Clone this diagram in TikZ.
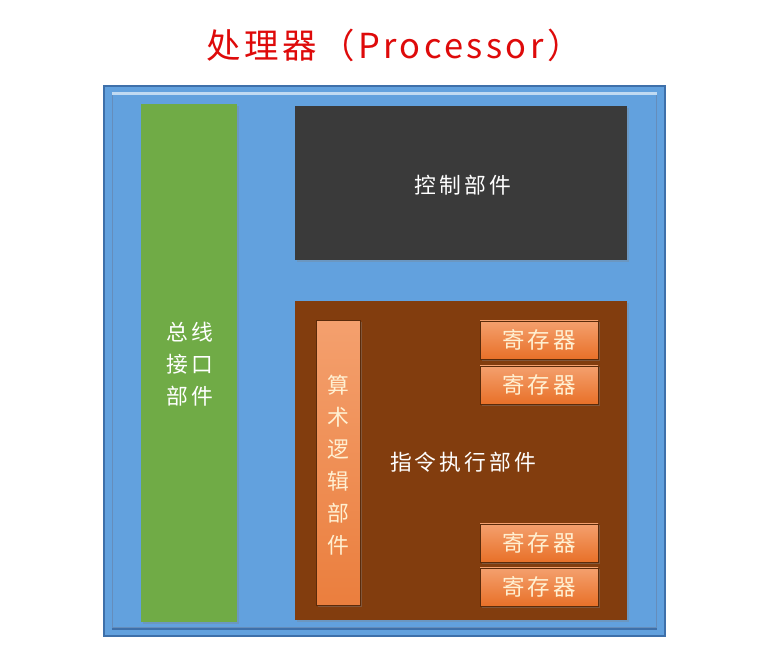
\documentclass[tikz,border=0pt]{standalone}
\usepackage{fontspec}
\newfontfamily\cjk[LetterSpace=14]{Noto Sans CJK SC}
\newfontfamily\cjktitle[LetterSpace=10]{Noto Sans CJK SC}
\usetikzlibrary{shadows}
\definecolor{procblue}{RGB}{98,161,222}
\definecolor{procedge}{RGB}{62,112,170}
\definecolor{procgreen}{RGB}{112,171,70}
\definecolor{procdark}{RGB}{58,58,58}
\definecolor{procbrown}{RGB}{130,61,14}
\definecolor{procorange}{RGB}{232,112,40}
\definecolor{proclight}{RGB}{244,160,110}
\definecolor{proccream}{RGB}{255,240,210}
\definecolor{procred}{RGB}{222,10,10}

\begin{document}
\begin{tikzpicture}[x=0.25mm,y=-0.25mm]
  \tikzstyle{part}=[draw=none,minimum width=83mm,align=center,text=white,
    font=\cjk\fontsize{15.5pt}{22.6pt}\selectfont]
  \tikzstyle{reg}=[draw=procbrown!70!black,thin,top color=proclight,bottom color=procorange,
    minimum width=29.5mm,minimum height=9.6mm,text=proccream,
    font=\cjk\fontsize{16pt}{18pt}\selectfont,drop shadow={opacity=0.4,shadow xshift=0.4mm,shadow yshift=-0.4mm}]
  \useasboundingbox (0,0) rectangle (782,661);
  % Title above the processor
  \node[text=procred,font=\cjktitle\fontsize{24.5pt}{28pt}\selectfont] (title) at (394,45)
    {处理器（Processor）};
  % Outer processor frame with a bevelled rim
  \node[draw=procedge,line width=0.6mm,fill=procblue,minimum width=140.25mm,
    minimum height=137.5mm,inner sep=0pt] (proc) at (384.5,361) {};
  \node[draw=procedge!80,line width=0.3mm,minimum width=136mm,
    minimum height=133.5mm,inner sep=0pt] (rim) at (384.5,361) {};
  \draw[white!60!procblue,line width=0.6mm] (rim.north west) -- (rim.north east);
  \draw[procedge,line width=0.5mm] (rim.south west) -- (rim.south east);
  % Bus interface on the left
  \node[part,fill=procgreen,minimum width=24mm,minimum height=129.5mm,
    drop shadow={opacity=0.3,shadow xshift=0.4mm,shadow yshift=-0.4mm}] (bus) at (189,363) {};
  \node[part] (buslbl) at (190,364) {总线\\接口\\部件};
  % Control unit
  \node[part,fill=procdark,minimum height=38.5mm,
    drop shadow={opacity=0.3,shadow xshift=0.4mm,shadow yshift=-0.4mm}] (ctrl) at (461,183) {};
  \node[part] (ctrllbl) at (463,185) {控制部件};
  % Execution unit with ALU and registers
  \node[part,fill=procbrown,minimum height=79.75mm,
    drop shadow={opacity=0.3,shadow xshift=0.4mm,shadow yshift=-0.4mm}] (exec) at (461,460.5) {};
  \node[part] (execlbl) at (463,462) {指令执行部件};
  \node[draw=procbrown!70!black,thin,top color=proclight,bottom color=procorange!90!white,
    minimum width=11mm,minimum height=71.25mm,
    drop shadow={opacity=0.4,shadow xshift=0.4mm,shadow yshift=-0.4mm}] (alu) at (338,462.5) {};
  \node[part,text=proccream,font=\cjk\fontsize{15.5pt}{22.8pt}\selectfont] (alulbl) at (338,465)
    {算\\术\\逻\\辑\\部\\件};
  \node[reg] (reg1) at (539,340) {寄存器};
  \node[reg] (reg2) at (539,385) {寄存器};
  \node[reg] (reg3) at (539,543) {寄存器};
  \node[reg] (reg4) at (539,587) {寄存器};
\end{tikzpicture}
\end{document}
